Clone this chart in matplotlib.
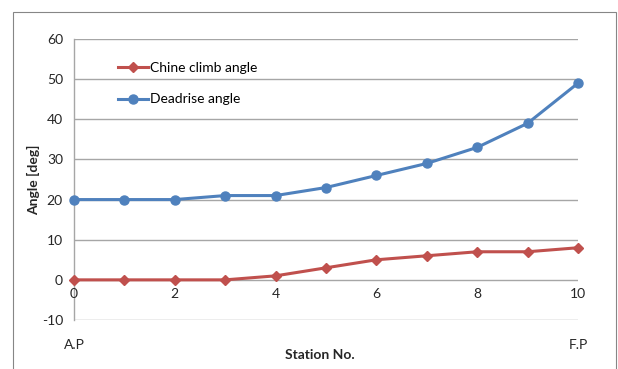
import matplotlib.pyplot as plt
from matplotlib.patches import Rectangle

plt.rcParams.update({'font.family': ['Lato', 'DejaVu Sans'], 'font.size': 10,
                     'axes.unicode_minus': False})

# Station numbers along the hull, A.P (0) to F.P (10)
stations = [0, 1, 2, 3, 4, 5, 6, 7, 8, 9, 10]
chine_climb = [0, 0, 0, 0, 1, 3, 5, 6, 7, 7, 8]
deadrise = [20, 20, 20, 21, 21, 23, 26, 29, 33, 39, 49]
y_ticks = [-10, 0, 10, 20, 30, 40, 50, 60]
x_ticks = [0, 2, 4, 6, 8, 10]

RED = '#C0504D'
BLUE = '#4F81BD'
GRID = '#A6A6A6'
TXT = '#262626'

fig = plt.figure(figsize=(6.18, 3.69), dpi=100)
# chart frame
fig.patches.append(Rectangle((13 / 618, -0.05), 603 / 618, 1 - 12 / 369 + 0.05,
                             transform=fig.transFigure, fill=False,
                             edgecolor='#868686', linewidth=0.8))

ax = fig.add_axes([74 / 618, 1 - 320 / 369, 504 / 618, 281 / 369])
ax.set_xlim(0, 10)
ax.set_ylim(-10, 60)

for y in y_ticks:
    ax.axhline(y, color=GRID, linewidth=1.0, zorder=1)

ax.plot(stations, chine_climb, color=RED, linewidth=2.2, marker='D',
        markersize=5.5, label='Chine climb angle', clip_on=False, zorder=3)
ax.plot(stations, deadrise, color=BLUE, linewidth=2.2, marker='o',
        markersize=6.5, label='Deadrise angle', clip_on=False, zorder=3)

for side in ['top', 'right', 'bottom']:
    ax.spines[side].set_visible(False)
ax.spines['left'].set_color(GRID)
ax.spines['left'].set_linewidth(1.0)

ax.set_yticks(y_ticks)
ax.tick_params(axis='y', length=0, pad=8, labelsize=10, colors=TXT)
ax.set_xticks([])

# x labels sit just under the zero line
for x in x_ticks:
    ax.text(x, -2.0, str(x), ha='center', va='top', fontsize=10, color=TXT)

ax.set_ylabel('Angle [deg]', fontweight='bold', fontsize=10, labelpad=1, color=TXT)
fig.text(320 / 618, 1 - 355 / 369, 'Station No.', ha='center', va='center',
         fontweight='bold', fontsize=10, color=TXT)
fig.text(74 / 618, 1 - 345 / 369, 'A.P', ha='center', va='center', fontsize=10, color=TXT)
fig.text(578 / 618, 1 - 345 / 369, 'F.P', ha='center', va='center', fontsize=10, color=TXT)

ax.legend(loc='upper left', bbox_to_anchor=(0.087, 0.918), frameon=False,
          fontsize=10, handlelength=2.2, handletextpad=0.1, labelspacing=1.4,
          borderpad=0, borderaxespad=0)

fig.savefig('out.png', dpi=100)
